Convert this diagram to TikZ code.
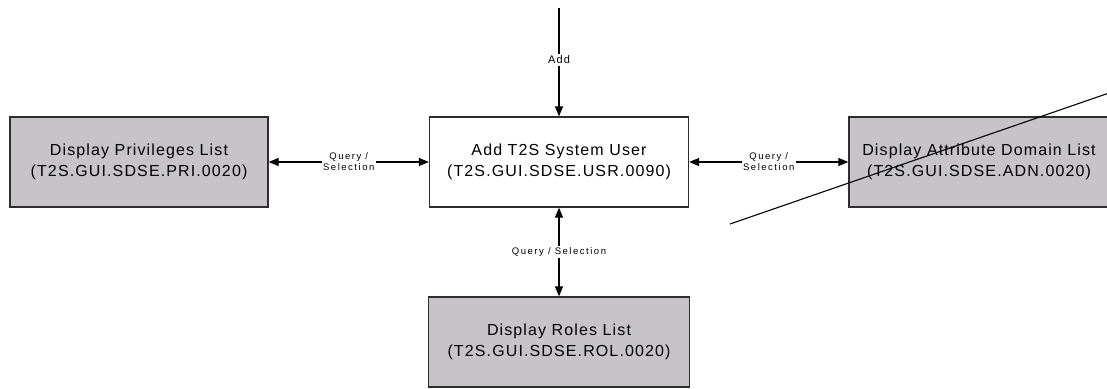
\documentclass[tikz,border=0pt]{standalone}
\usepackage{fontspec}
\setmainfont{Liberation Sans}
\newfontfamily\boxfont[LetterSpace=7]{Liberation Sans}
\newfontfamily\labfont[LetterSpace=16]{Liberation Sans}
\newfontfamily\addfont[LetterSpace=10]{Liberation Sans}
\usetikzlibrary{arrows.meta}
\definecolor{boxgray}{RGB}{198,196,198}
\definecolor{edgegray}{RGB}{45,45,45}
\begin{document}
\begin{tikzpicture}[x=1pt,y=-1pt,
  box/.style={draw=edgegray,line width=1.3pt,minimum width=259pt,minimum height=90pt,inner sep=0pt,align=center,font=\boxfont\fontsize{16}{21.5}\selectfont},
  graybox/.style={box,fill=boxgray},
  conn/.style={line width=1.1pt,{Triangle[length=10pt,width=8pt]}-{Triangle[length=10pt,width=8pt]}},
  conn1/.style={line width=1.1pt,-{Triangle[length=10pt,width=8pt]}},
  lab/.style={fill=white,inner sep=1.5pt,align=center,font=\labfont\fontsize{9.5}{11}\selectfont}]
\useasboundingbox (0,0) rectangle (1107,388);
\clip (0,0) rectangle (1107,388);
\node[box] (usr) at (559,162) {Add T2S System User\\(T2S.GUI.SDSE.USR.0090)};
\node[graybox,minimum width=258pt] (pri) at (139,162) {Display Privileges List\\(T2S.GUI.SDSE.PRI.0020)};
\node[graybox,minimum width=260pt] (adn) at (979,162) {Display Attribute Domain List\\(T2S.GUI.SDSE.ADN.0020)};
\node[graybox,minimum width=261pt] (rol) at (559,342) {Display Roles List\\(T2S.GUI.SDSE.ROL.0020)};
\coordinate (top) at (559,8);
\draw[conn1] (top) -- node[lab,font=\addfont\fontsize{11}{13}\selectfont,pos=0.48]{Add} (usr.north);
\draw[conn] (pri.east) -- node[lab]{Query /\\Selection} (usr.west);
\draw[conn] (usr.east) -- node[lab]{Query /\\Selection} (adn.west);
\draw[conn] (usr.south) -- node[lab]{Query / Selection} (rol.north);
\coordinate (d1) at (730,224);
\coordinate (d2) at (1107,93.7);
\draw[line width=1.1pt] (d1) -- (d2);
\end{tikzpicture}
\end{document}
